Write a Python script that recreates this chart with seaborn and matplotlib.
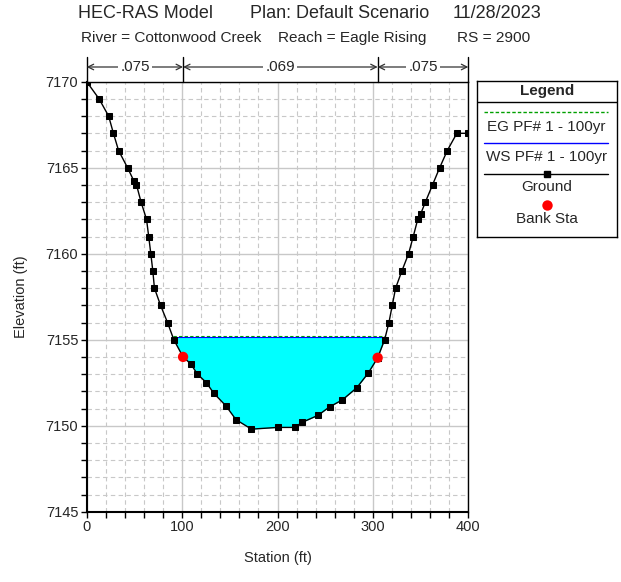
import numpy as np
import pandas as pd
import matplotlib
matplotlib.use("Agg")
import matplotlib.pyplot as plt
import matplotlib.transforms as mtransforms
from matplotlib.ticker import MultipleLocator
import seaborn as sns

# ground survey points (station ft, elevation ft)
station = [0, 13, 23, 28, 33.4, 42.8, 49.7, 52.2, 57, 62.7, 65, 67.2, 69.3, 71,
           77.4, 84.7, 91.3, 101, 109, 116, 125.5, 133, 146, 156.5, 172.7, 200,
           218, 226, 242.4, 254.7, 268, 283, 295, 305, 312.3, 316.8, 320.3,
           323.8, 330.4, 337.4, 342.3, 347, 350, 355, 362.5, 370, 378, 388, 400]
elevation = [7170, 7169, 7168, 7167, 7166, 7165, 7164.2, 7164, 7163, 7162, 7161,
             7160, 7159, 7158, 7157, 7156, 7155, 7154, 7153.6, 7153, 7152.5,
             7151.9, 7151.15, 7150.35, 7149.8, 7149.9, 7149.9, 7150.2, 7150.6,
             7151.1, 7151.5, 7152.2, 7153.05, 7153.95, 7155, 7156, 7157, 7158,
             7159, 7160, 7161, 7162, 7162.3, 7163, 7164, 7165, 7166, 7167, 7167]

bank_sta = [101, 305]
bank_elev = [7154, 7153.95]

ws_elev = 7155.15   # WS PF# 1 - 100yr
eg_elev = 7155.2    # EG PF# 1 - 100yr

n_bounds = [0, 101, 305, 400]
n_values = [".075", ".069", ".075"]

df = pd.DataFrame({"Station": station, "Elevation": elevation})

sns.set_style("white")
plt.rcParams['font.family'] = ['Liberation Sans', 'DejaVu Sans']

fig = plt.figure(figsize=(6.21, 5.82), dpi=100)
ax = fig.add_axes([86.7 / 621, 1 - 511.7 / 582, (468.3 - 86.7) / 621, (511.7 - 81.7) / 582])

# water fill
x = np.array(station, dtype=float)
y = np.array(elevation, dtype=float)
ax.fill_between(x, y, ws_elev, where=y <= ws_elev, interpolate=True,
                color="#00ffff", lw=0, zorder=2)
# water surface / energy grade lines over the wetted width
ax.plot([90.2, 312.4], [eg_elev, eg_elev], color="#00a000", lw=0.8, ls=(0, (3, 2)), zorder=3)
ax.plot([90.2, 312.4], [ws_elev, ws_elev], color="blue", lw=0.8, zorder=3)

sns.lineplot(data=df, x="Station", y="Elevation", sort=False, color="black",
             lw=1, marker="s", markersize=5, markeredgecolor="black", ax=ax, zorder=4)
sns.scatterplot(x=bank_sta, y=bank_elev, color="red", s=55, edgecolor="none", ax=ax, zorder=5)

ax.set_xlim(0, 400)
ax.set_ylim(7145, 7170)
ax.xaxis.set_major_locator(MultipleLocator(100))
ax.xaxis.set_minor_locator(MultipleLocator(20))
ax.yaxis.set_major_locator(MultipleLocator(5))
ax.yaxis.set_minor_locator(MultipleLocator(1))
ax.grid(which="major", color="#c8c8c8", lw=1, ls="-", zorder=0)
ax.grid(which="minor", color="#c8c8c8", lw=0.8, ls=(0, (4, 3)), zorder=0)
ax.set_axisbelow(True)
ax.tick_params(which="both", direction="out", length=4, width=1, color="black",
               labelsize=10.5, left=True, bottom=True, pad=2)
for side, sp in ax.spines.items():
    sp.set_visible(True)
    sp.set_color("black")
    sp.set_linewidth(1.5 if side in ("left", "bottom") else 1)
ax.set_xlabel("Station (ft)", fontsize=10.5, labelpad=12)
ax.set_ylabel("Elevation (ft)", fontsize=10.5, labelpad=13)

# Manning's n bands above the plot
trans = mtransforms.blended_transform_factory(ax.transData, ax.transAxes)
top = 1 + (81.7 - 57) / 430
arr_y = 1 + (81.7 - 67) / 430
for xb in n_bounds:
    ax.plot([xb, xb], [1, top], color="black", lw=1, transform=trans, clip_on=False)
for i, nv in enumerate(n_values):
    x0, x1 = n_bounds[i], n_bounds[i + 1]
    ax.annotate("", xy=(x0, arr_y), xytext=(x1, arr_y), xycoords=trans, textcoords=trans,
                arrowprops=dict(arrowstyle="<->", color="#333333", lw=0.9,
                                shrinkA=0, shrinkB=0, mutation_scale=10))
    ax.text((x0 + x1) / 2, arr_y, nv, transform=trans, ha="center", va="center",
            fontsize=11, bbox=dict(boxstyle="square,pad=0.15", fc="white", ec="none"))

# header
hy1 = 1 - 13 / 582
hy2 = 1 - 38 / 582
fig.text(78 / 621, hy1, "HEC-RAS Model", fontsize=13, va="center")
fig.text(250 / 621, hy1, "Plan: Default Scenario", fontsize=13, va="center")
fig.text(453 / 621, hy1, "11/28/2023", fontsize=13, va="center")
fig.text(81 / 621, hy2, "River = Cottonwood Creek", fontsize=11.1, va="center")
fig.text(278 / 621, hy2, "Reach = Eagle Rising", fontsize=11.1, va="center")
fig.text(457 / 621, hy2, "RS = 2900", fontsize=11.1, va="center")

# legend box
lax = fig.add_axes([476.7 / 621, 1 - 237 / 582, 140 / 621, 156 / 582])
lax.set_xlim(0, 140)
lax.set_ylim(156, 0)
lax.set_xticks([])
lax.set_yticks([])
for sp in lax.spines.values():
    sp.set_color("black")
    sp.set_linewidth(1)
lax.text(70, 10, "Legend", ha="center", va="center", fontsize=11, fontweight="bold")
lax.plot([0, 140], [20.7, 20.7], color="black", lw=1)
lax.plot([7.3, 131.3], [31.3, 31.3], color="#00a000", lw=1, ls=(0, (2.5, 1.5)))
lax.text(70, 45.7, "EG PF# 1 - 100yr", ha="center", va="center", fontsize=11)
lax.plot([7.3, 131.3], [62.3, 62.3], color="blue", lw=1)
lax.text(70, 75.7, "WS PF# 1 - 100yr", ha="center", va="center", fontsize=11)
lax.plot([7.3, 131.3], [93, 93], color="black", lw=1)
lax.plot([70], [93], marker="s", color="black", markersize=5)
lax.text(70, 106, "Ground", ha="center", va="center", fontsize=11)
lax.plot([70], [124], marker="o", color="red", markersize=7.5, markeredgecolor="none")
lax.text(70, 138, "Bank Sta", ha="center", va="center", fontsize=11)

fig.savefig("out.png", dpi=100)
